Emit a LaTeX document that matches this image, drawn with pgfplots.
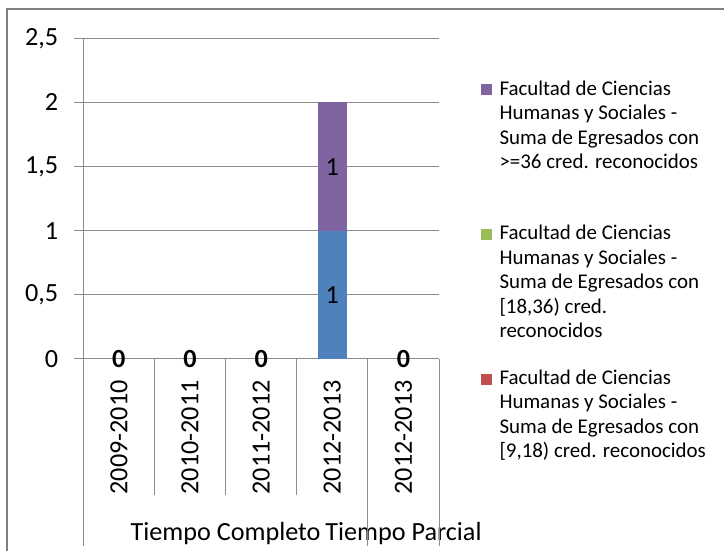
\documentclass[border=0pt]{standalone}
\usepackage{fontspec}
\setmainfont{Carlito}
\usepackage{pgfplots}
\pgfplotsset{compat=1.18}
\usepackage{pgfplotstable}
\definecolor{xblue}{HTML}{4F81BD}
\definecolor{xred}{HTML}{C0504D}
\definecolor{xgreen}{HTML}{9BBB59}
\definecolor{xpurple}{HTML}{8064A2}
\definecolor{gridgray}{HTML}{8C8C8C}
\definecolor{bordergray}{HTML}{7F7F7F}
\newcommand{\axfont}{\fontsize{26.3}{31}\selectfont}
\newcommand{\legfont}{\fontsize{21}{24.5}\selectfont}
\newcommand{\legtext}[1]{\begin{tabular}[t]{@{}l@{}}#1\end{tabular}}
\pgfplotsset{sqlegend/.style={legend image code/.code={\fill[##1, draw=none] (0bp,0bp) rectangle (11bp,11bp);}}}

\pgfplotstableread{
x blue red green purple
0 0 0 0 0
1 0 0 0 0
2 0 0 0 0
3 1 0 0 1
4 0 0 0 0
}\datatable

\pgfplotstableread{
x y lab
0 0 0
1 0 0
2 0 0
4 0 0
}\zerolabels

\pgfplotstableread{
x y lab
3 0.5 1
3 1.5 1
}\onelabels

\begin{document}
\begin{tikzpicture}
\useasboundingbox (0,0) rectangle (724bp,551bp);
\draw[bordergray, line width=1.6bp] (7bp,-20bp) -- (7bp,542bp) -- (760bp,542bp);
\begin{axis}[
  at={(83.3bp,192bp)}, anchor=south west,
  scale only axis, width=355.7bp, height=320.7bp,
  xmin=-0.5, xmax=4.5, ymin=0, ymax=2.5,
  ybar stacked, bar width=29bp,
  axis x line*=bottom, axis y line*=left,
  axis line style={gridgray, line width=1bp},
  ytick={0,0.5,1,1.5,2,2.5},
  yticklabels={0,{0,5},1,{1,5},2,{2,5}},
  ymajorgrids, grid style={gridgray, line width=1bp},
  tick align=outside, major tick length=9bp,
  ytick style={gridgray, line width=1bp},
  yticklabel style={font=\axfont, inner sep=0pt, xshift=-16bp},
  xtick={0,1,2,3,4},
  xticklabels={2009-2010,2010-2011,2011-2012,2012-2013,2012-2013},
  xtick style={draw=none},
  xticklabel style={font=\axfont, inner sep=0pt, yshift=-12bp, rotate=90, anchor=east},
  legend style={at={(1.1181,0.882)}, anchor=north west, draw=none, fill=none, inner sep=0pt,
     font=\legfont, row sep=122bp, column sep=5.3bp, cells={anchor=base west, inner sep=0pt}},
  reverse legend,
]
\addplot[fill=xblue, draw=none, forget plot] table[x=x, y=blue] {\datatable};
\addplot[fill=xred, draw=none, sqlegend] table[x=x, y=red] {\datatable};
\addlegendentry{\legtext{Facultad de Ciencias\\Humanas y Sociales -\\Suma de Egresados con\\{[}9,18) cred. reconocidos}}
\addplot[fill=xgreen, draw=none, sqlegend] table[x=x, y=green] {\datatable};
\addlegendentry{\legtext{Facultad de Ciencias\\Humanas y Sociales -\\Suma de Egresados con\\{[}18,36) cred.\\reconocidos}}
\addplot[fill=xpurple, draw=none, sqlegend] table[x=x, y=purple] {\datatable};
\addlegendentry{\legtext{Facultad de Ciencias\\Humanas y Sociales -\\Suma de Egresados con\\>=36 cred. reconocidos}}
\end{axis}
\begin{axis}[
  at={(83.3bp,192bp)}, anchor=south west,
  scale only axis, width=355.7bp, height=320.7bp,
  xmin=-0.5, xmax=4.5, ymin=0, ymax=2.5,
  axis line style={draw=none},
  ytick=\empty,
  xtick={1.5,4}, xticklabels={Tiempo Completo,Tiempo Parcial},
  xtick pos=bottom, xtick style={draw=none},
  xticklabel style={font=\axfont, inner sep=0pt, anchor=base, yshift=-181bp},
  clip=false,
]
\addplot[only marks, mark=none, nodes near coords, point meta=explicit symbolic,
  nodes near coords style={font=\axfont\bfseries, anchor=center, inner sep=0pt, text=black}]
  table[x=x, y=y, meta=lab] {\zerolabels};
\addplot[only marks, mark=none, nodes near coords, point meta=explicit symbolic,
  nodes near coords style={font=\axfont, anchor=center, inner sep=0pt, text=black}]
  table[x=x, y=y, meta=lab] {\onelabels};
\end{axis}
\begin{axis}[
  at={(83.3bp,192bp)}, anchor=south west,
  scale only axis, width=355.7bp, height=320.7bp,
  xmin=-0.5, xmax=4.5, ymin=0, ymax=2.5,
  axis line style={draw=none},
  ytick=\empty,
  xtick={-0.5,3.5,4.5}, xticklabels={},
  minor xtick={0.5,1.5,2.5},
  xtick pos=bottom, tick align=outside,
  major tick length=187bp, minor tick length=136bp,
  xtick style={gridgray, line width=1bp},
]
\end{axis}
\end{tikzpicture}
\end{document}
